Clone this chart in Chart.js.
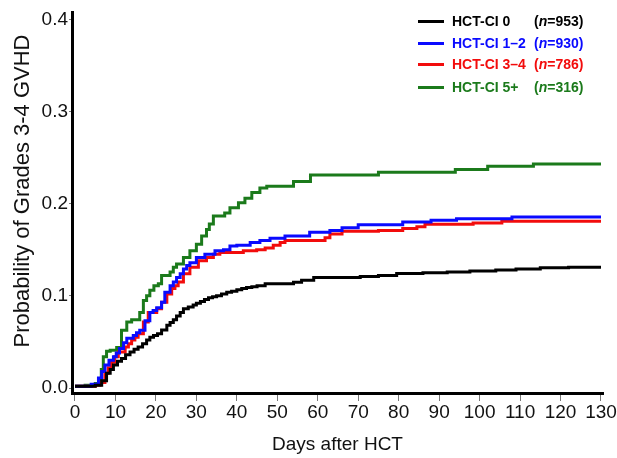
<!DOCTYPE html>
<html>
<head>
<meta charset="utf-8">
<script src="https://cdn.jsdelivr.net/npm/chart.js@4/dist/chart.umd.min.js"></script>
<style>
  html, body { margin: 0; padding: 0; background: #fff; }
  #wrap { position: relative; width: 617px; height: 458px; }
  #legend { position: absolute; left: 0; top: 0; font-family: 'Liberation Sans', Arial, sans-serif; font-weight: bold; font-size: 14px; }
  .row { position: absolute; left: 0; height: 18px; }
  .swatch { position: absolute; left: 418px; top: 8px; width: 26px; height: 3px; }
  .name { position: absolute; left: 452px; top: 0; white-space: nowrap; line-height: 18px; }
  .count { position: absolute; left: 534px; top: 0; white-space: nowrap; line-height: 18px; }
</style>
</head>
<body>
<div id="wrap">
  <canvas id="chart" width="617" height="458"></canvas>
  <div id="legend"></div>
</div>
<script>
const seriesNames = ['HCT-CI 0', 'HCT-CI 1\u20132', 'HCT-CI 3\u20134', 'HCT-CI 5+'];
const seriesCounts = [953, 930, 786, 316];
const seriesColors = ['#000000', '#0a0aff', '#f20c0c', '#1b7a1b'];

const xTicks = [0, 10, 20, 30, 40, 50, 60, 70, 80, 90, 100, 110, 120, 130];
const yTicks = [0, 0.1, 0.2, 0.3, 0.4];
const yTitle = 'Probability of Grades 3-4 GVHD';

// HCT-CI 0
const days0 = [0, 5, 6.6, 7.8, 8.7, 9.5, 10.5, 11.5, 12.5, 13.6, 14.6, 15.6, 16.7, 17.7, 18.5, 19.4, 20.4, 21.4, 22.7, 23.5, 24.3, 25.1, 26, 26.8, 28, 29.2, 30, 31, 32, 33, 34, 35, 36.2, 37.5, 38.7, 40, 41.2, 42.4, 43.7, 45, 47, 54, 56, 59, 70.5, 75, 79.5, 86, 92, 97.6, 104, 109, 115, 122, 130];
const prob0 = [0.002, 0.003, 0.008, 0.016, 0.020, 0.025, 0.029, 0.032, 0.036, 0.039, 0.042, 0.0445, 0.048, 0.052, 0.055, 0.057, 0.059, 0.063, 0.068, 0.071, 0.074, 0.078, 0.082, 0.086, 0.088, 0.090, 0.092, 0.094, 0.096, 0.098, 0.099, 0.100, 0.102, 0.104, 0.105, 0.1065, 0.108, 0.109, 0.110, 0.111, 0.113, 0.1147, 0.117, 0.120, 0.121, 0.122, 0.1243, 0.125, 0.126, 0.127, 0.128, 0.129, 0.1305, 0.131, 0.131];

// HCT-CI 1-2
const days12 = [0, 4, 5.8, 6.6, 7.4, 8.4, 9.5, 10.2, 11, 12, 12.8, 14.4, 15.2, 16, 17.3, 18.5, 19.3, 20.2, 21.4, 22.2, 23.5, 24.3, 25.1, 26, 26.8, 27.6, 28.4, 30, 32.1, 34.6, 36.7, 38.3, 40, 43.3, 45.7, 48.2, 51.9, 58, 63, 66, 70, 81, 88, 94.3, 108, 130];
const prob12 = [0.002, 0.004, 0.011, 0.018, 0.025, 0.030, 0.034, 0.038, 0.043, 0.049, 0.054, 0.057, 0.060, 0.0626, 0.073, 0.082, 0.084, 0.087, 0.093, 0.104, 0.111, 0.115, 0.120, 0.124, 0.129, 0.133, 0.136, 0.1416, 0.145, 0.149, 0.150, 0.154, 0.155, 0.158, 0.160, 0.1625, 0.165, 0.169, 0.171, 0.174, 0.177, 0.180, 0.182, 0.1837, 0.1855, 0.1855];

// HCT-CI 3-4
const days34 = [0, 5, 6.2, 7.4, 8.2, 9, 9.8, 10.7, 12.4, 13.2, 14, 14.8, 15.6, 16.9, 18.1, 20.2, 21.4, 22.7, 23.9, 24.7, 25.5, 26.8, 28.4, 30.5, 32.5, 34.2, 35.8, 41.6, 44.9, 47, 49, 50.7, 51.9, 61.8, 63, 66, 75, 81, 84.5, 86.5, 98.4, 105.5, 130];
const prob34 = [0.002, 0.003, 0.006, 0.016, 0.022, 0.028, 0.034, 0.039, 0.0445, 0.048, 0.052, 0.055, 0.059, 0.0715, 0.082, 0.086, 0.093, 0.102, 0.108, 0.111, 0.115, 0.124, 0.131, 0.138, 0.1416, 0.145, 0.147, 0.149, 0.150, 0.152, 0.155, 0.158, 0.160, 0.163, 0.167, 0.170, 0.171, 0.173, 0.175, 0.1776, 0.179, 0.181, 0.181];

// HCT-CI 5+
const days5 = [0, 2.5, 5, 6.5, 7, 7.8, 8.7, 10.3, 11.5, 12.8, 14, 16, 16.9, 17.7, 18.5, 19.5, 20.6, 21.4, 23.5, 24.3, 25.1, 26.8, 28.4, 30, 31.3, 32.5, 33.2, 34.2, 37, 38.3, 40.4, 42, 43.7, 45.7, 47.4, 54, 58.2, 75, 94, 102, 113.3, 130];
const prob5 = [0.002, 0.003, 0.005, 0.02, 0.034, 0.040, 0.041, 0.044, 0.0626, 0.0715, 0.074, 0.082, 0.095, 0.100, 0.106, 0.111, 0.113, 0.122, 0.126, 0.131, 0.1345, 0.1416, 0.149, 0.156, 0.165, 0.172, 0.178, 0.1866, 0.190, 0.1956, 0.201, 0.206, 0.212, 0.217, 0.219, 0.224, 0.231, 0.234, 0.237, 0.2405, 0.243, 0.243];

const allDays = [days0, days12, days34, days5];
const allProbs = [prob0, prob12, prob34, prob5];

Chart.defaults.font.family = "'Liberation Sans', Arial, sans-serif";
Chart.defaults.color = '#111';

const datasets = seriesNames.map((name, i) => ({
  label: name,
  data: allDays[i].map((d, j) => ({ x: d, y: allProbs[i][j] })),
  borderColor: seriesColors[i],
  borderWidth: 3,
  pointRadius: 0,
  stepped: true,
  fill: false
}));

// y title drawn by hand, it sits a bit above the middle of the axis
const yTitlePlugin = {
  id: 'yTitle',
  afterDraw(chart) {
    const ctx = chart.ctx;
    ctx.save();
    ctx.translate(23, 191);
    ctx.rotate(-Math.PI / 2);
    ctx.font = "22px 'Liberation Sans', Arial, sans-serif";
    ctx.fillStyle = '#111';
    ctx.textAlign = 'center';
    ctx.textBaseline = 'middle';
    ctx.fillText(yTitle, 0, 0);
    ctx.restore();
  }
};

new Chart(document.getElementById('chart'), {
  type: 'line',
  data: { datasets: datasets },
  plugins: [yTitlePlugin],
  options: {
    responsive: false,
    animation: false,
    layout: { padding: { top: 10, right: 14, left: 0, bottom: 0 } },
    plugins: { legend: { display: false }, tooltip: { enabled: false } },
    scales: {
      x: {
        type: 'linear',
        min: -0.74,
        max: 130.5,
        afterBuildTicks: s => { s.ticks = xTicks.map(v => ({ value: v })); },
        afterFit: s => { s.height = 65; },
        ticks: { font: { size: 19 }, padding: 0, maxRotation: 0, autoSkip: false },
        grid: { drawOnChartArea: false, drawTicks: true, tickLength: 8, color: '#777', lineWidth: 1 },
        border: { color: '#000', width: 3 },
        title: { display: true, text: 'Days after HCT', font: { size: 19 }, padding: { top: 0, bottom: 2 } }
      },
      y: {
        min: -0.0054,
        max: 0.4075,
        afterBuildTicks: s => { s.ticks = yTicks.map(v => ({ value: v })); },
        afterFit: s => { s.width = 72; },
        ticks: { font: { size: 19 }, padding: 1, callback: v => v.toFixed(1) },
        grid: { drawOnChartArea: false, drawTicks: true, tickLength: 3, color: '#777', lineWidth: 1 },
        border: { color: '#000', width: 3 }
      }
    }
  }
});

// legend as html text
const legend = document.getElementById('legend');
const rowTops = [12, 34, 55, 78];
seriesNames.forEach((name, i) => {
  const row = document.createElement('div');
  row.className = 'row';
  row.style.top = rowTops[i] + 'px';
  row.style.color = seriesColors[i];
  row.innerHTML = '<div class="swatch" style="background:' + seriesColors[i] + '"></div>' +
    '<span class="name">' + name + '</span>' +
    '<span class="count">(<i>n</i>=' + seriesCounts[i] + ')</span>';
  legend.appendChild(row);
});
</script>
</body>
</html>
